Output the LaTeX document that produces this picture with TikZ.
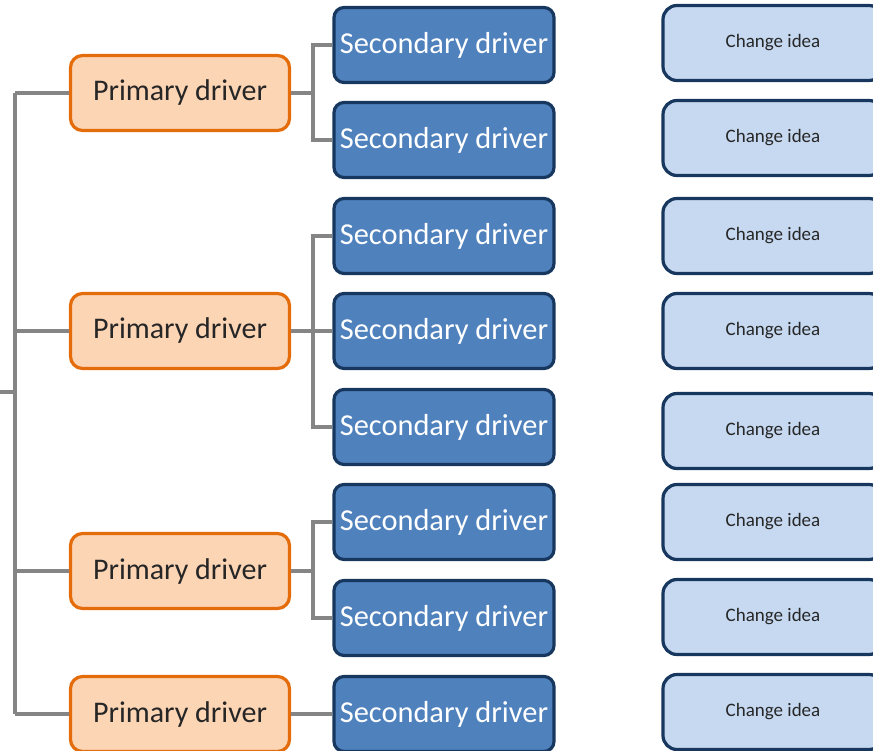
\documentclass[tikz,border=0pt]{standalone}
\usepackage{fontspec}
\setmainfont{Carlito}
\definecolor{linkgray}{HTML}{858585}
\definecolor{peach}{HTML}{FCD5B5}
\definecolor{orangeedge}{HTML}{E46C0A}
\definecolor{midblue}{HTML}{4F81BD}
\definecolor{navy}{HTML}{17375E}
\definecolor{paleblue}{HTML}{C6D9F1}
\begin{document}
\begin{tikzpicture}[x=1pt,y=1pt,
  primbox/.style={draw=orangeedge, fill=peach, line width=3.2pt, rounded corners=12pt,
    minimum width=219pt, minimum height=75pt, inner sep=0pt, font=\fontsize{30}{32}\selectfont, text=black!85},
  secbox/.style={draw=navy, fill=midblue, line width=3.2pt, rounded corners=10pt,
    minimum width=220pt, minimum height=75pt, inner sep=0pt, font=\fontsize{30.4}{33}\selectfont, text=white},
  ideabox/.style={draw=navy, fill=paleblue, line width=3.2pt, rounded corners=14pt,
    minimum width=220pt, minimum height=75pt, inner sep=0pt, font=\fontsize{19}{21}\selectfont, text=black!85},
  link/.style={draw=linkgray, line width=3.5pt}]
\useasboundingbox (0,0) rectangle (873,-751);
\clip (0,0) rectangle (873,-751);

% primary drivers
\node[primbox] (p1) at (180,-93) {Primary driver};
\node[primbox] (p2) at (180,-331) {Primary driver};
\node[primbox] (p3) at (180,-571) {Primary driver};
\node[primbox] (p4) at (180,-714) {Primary driver};

% secondary drivers
\foreach \i/\y in {1/45,2/140,3/236,4/331,5/427,6/522,7/618,8/714}
  \node[secbox] (s\i) at (444,-\y) {Secondary driver};

% change ideas
\foreach \i/\y in {1/43,2/138,3/236,4/331,5/431,6/522,7/617,8/712}
  \node[ideabox] (c\i) at (773,-\y) {\raisebox{-2pt}{Change idea}};

% trunk on the left
\coordinate (root) at (0,-392);
\coordinate (tr) at (15,-392);
\draw[link] (root) -- (tr);
\draw[link] (p1.west -| tr) -- (p4.west -| tr);
\foreach \p in {p1,p2,p3,p4}
  \draw[link] (\p.west -| tr) -- (\p.west);

% branches from primary to secondary drivers
\coordinate (b) at (313,0);
\draw[link] (p1.east) -- (p1.east -| b);
\draw[link] (s1.west) -| (b |- s2.west) -- (s2.west);
\draw[link] (p2.east) -- (p2.east -| b);
\draw[link] (s3.west) -| (b |- s5.west) -- (s5.west);
\draw[link] (p2.east -| b) -- (s4.west);
\draw[link] (p3.east) -- (p3.east -| b);
\draw[link] (s6.west) -| (b |- s7.west) -- (s7.west);
\draw[link] (p4.east) -- (s8.west);
\end{tikzpicture}
\end{document}
